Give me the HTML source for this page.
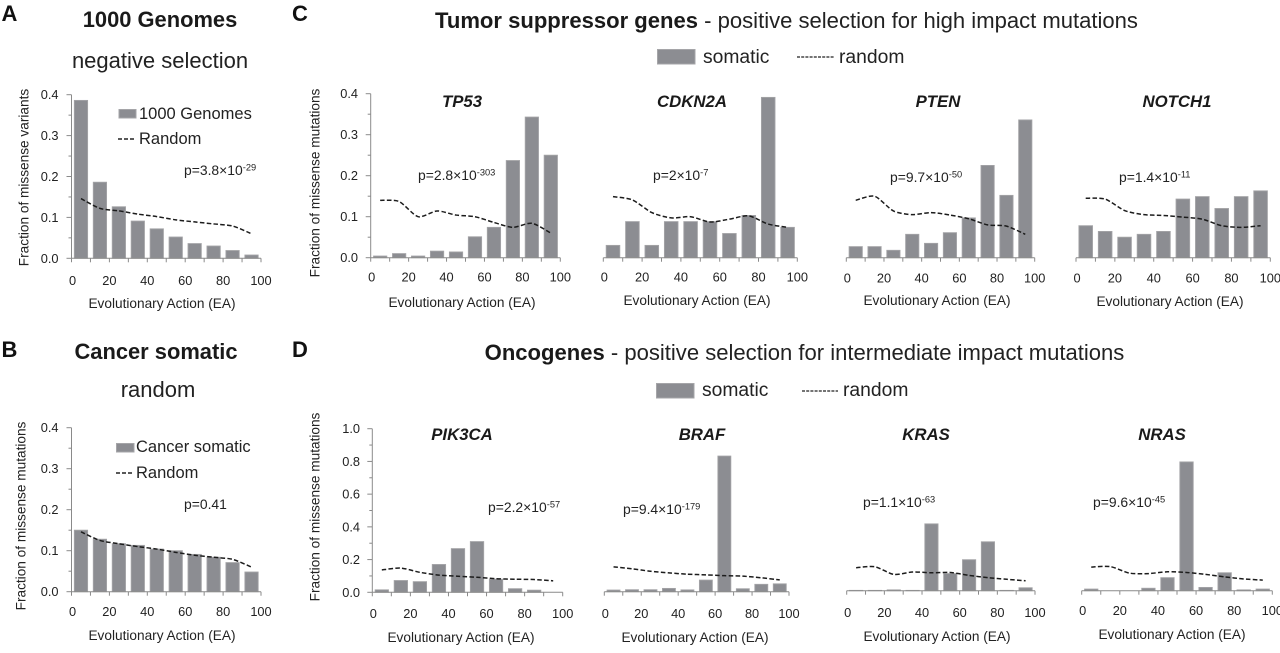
<!DOCTYPE html>
<html lang="en">
<head>
<meta charset="utf-8">
<title>Evolutionary Action selection charts</title>
<style>
html,body{margin:0;padding:0;background:#fff;width:1280px;height:653px;overflow:hidden}
svg{display:block;font-family:"Liberation Sans",sans-serif;fill:#222;filter:blur(0.3px)}
.letter{font-size:22px;font-weight:bold;fill:#111}
.head{font-size:21.9px;font-weight:bold;fill:#1a1a1a}
.sub{font-size:22px;fill:#222}
.wide{font-size:22.05px;fill:#222}
.wide .b{font-weight:bold;fill:#1a1a1a}
.leg{font-size:19.3px}
.legs{font-size:16.5px}
.gene{font-size:16.8px;font-weight:bold;font-style:italic;fill:#1a1a1a}
.pv{font-size:13.9px}
.pv .sup{font-size:9.3px}
.xt{font-size:12.8px;text-anchor:middle}
.yt{font-size:12.8px;text-anchor:end}
.axt{font-size:13.65px;text-anchor:middle}
</style>
</head>
<body>
<svg id="fig" width="1280" height="653" viewBox="0 0 1280 653" xmlns="http://www.w3.org/2000/svg">
  <rect width="1280" height="653" fill="#fff"/>

  <text class="letter" x="1.5" y="21">A</text>
  <text class="letter" x="1.5" y="357">B</text>
  <text class="letter" x="292" y="21">C</text>
  <text class="letter" x="292" y="357">D</text>

  <text class="head" x="160" y="27" text-anchor="middle">1000 Genomes</text>
  <text class="sub" x="160" y="68" text-anchor="middle">negative selection</text>
  <text class="head" x="156" y="359" text-anchor="middle">Cancer somatic</text>
  <text class="sub" x="158" y="397" text-anchor="middle">random</text>

  <text class="wide" x="786.5" y="28" text-anchor="middle"><tspan class="b">Tumor suppressor genes</tspan> - positive selection for high impact mutations</text>
  <text class="wide" x="804.5" y="360" text-anchor="middle"><tspan class="b">Oncogenes</tspan> - positive selection for intermediate impact mutations</text>

  <g>
    <rect x="119" y="109.5" width="17" height="8.5" fill="#8c8d92" stroke="#a5a5a8" stroke-width="1"/>
    <text class="legs" x="139" y="119">1000 Genomes</text>
    <line x1="118" x2="135" y1="139" y2="139" stroke="#222" stroke-width="1.4" stroke-dasharray="4 2"/>
    <text class="legs" x="139" y="144">Random</text>
  </g>
  <g>
    <rect x="116.5" y="443.5" width="17.5" height="8.5" fill="#8c8d92" stroke="#a5a5a8" stroke-width="1"/>
    <text class="legs" x="136" y="452">Cancer somatic</text>
    <line x1="116" x2="133" y1="473" y2="473" stroke="#222" stroke-width="1.4" stroke-dasharray="4 2"/>
    <text class="legs" x="136" y="478">Random</text>
  </g>
  <g>
    <rect x="657.5" y="49.5" width="37.5" height="14.5" fill="#8c8d92" stroke="#a5a5a8" stroke-width="1"/>
    <text class="leg" x="703" y="63">somatic</text>
    <line x1="797" x2="834" y1="57" y2="57" stroke="#222" stroke-width="1.2" stroke-dasharray="3 1.2"/>
    <text class="leg" x="839" y="63">random</text>
  </g>
  <g>
    <rect x="656.5" y="383.5" width="37.5" height="14.5" fill="#8c8d92" stroke="#a5a5a8" stroke-width="1"/>
    <text class="leg" x="702" y="396">somatic</text>
    <line x1="802" x2="838" y1="391" y2="391" stroke="#222" stroke-width="1.2" stroke-dasharray="3 1.2"/>
    <text class="leg" x="843" y="396">random</text>
  </g>

  <text class="gene" x="462" y="107" text-anchor="middle">TP53</text>
  <text class="gene" x="692" y="107" text-anchor="middle">CDKN2A</text>
  <text class="gene" x="938" y="107" text-anchor="middle">PTEN</text>
  <text class="gene" x="1177" y="107" text-anchor="middle">NOTCH1</text>
  <text class="gene" x="462" y="440" text-anchor="middle">PIK3CA</text>
  <text class="gene" x="702" y="440" text-anchor="middle">BRAF</text>
  <text class="gene" x="926" y="440" text-anchor="middle">KRAS</text>
  <text class="gene" x="1162" y="440" text-anchor="middle">NRAS</text>

  <text class="pv" x="184" y="175">p=3.8×10<tspan class="sup" dy="-4.5">-29</tspan></text>
  <text class="pv" x="184" y="509">p=0.41</text>
  <text class="pv" x="418" y="180">p=2.8×10<tspan class="sup" dy="-4.5">-303</tspan></text>
  <text class="pv" x="653" y="180">p=2×10<tspan class="sup" dy="-4.5">-7</tspan></text>
  <text class="pv" x="890" y="182">p=9.7×10<tspan class="sup" dy="-4.5">-50</tspan></text>
  <text class="pv" x="1119" y="182">p=1.4×10<tspan class="sup" dy="-4.5">-11</tspan></text>
  <text class="pv" x="488" y="512">p=2.2×10<tspan class="sup" dy="-4.5">-57</tspan></text>
  <text class="pv" x="623" y="514">p=9.4×10<tspan class="sup" dy="-4.5">-179</tspan></text>
  <text class="pv" x="863" y="507">p=1.1×10<tspan class="sup" dy="-4.5">-63</tspan></text>
  <text class="pv" x="1093" y="507">p=9.6×10<tspan class="sup" dy="-4.5">-45</tspan></text>

  <text class="axt" transform="translate(28.5 177.5) rotate(-90)">Fraction of missense variants</text>
  <text class="axt" transform="translate(25.5 516) rotate(-90)">Fraction of missense mutations</text>
  <text class="axt" transform="translate(319.5 183) rotate(-90)">Fraction of missense mutations</text>
  <text class="axt" transform="translate(319.5 507) rotate(-90)">Fraction of missense mutations</text>

  <text class="axt" x="162" y="308">Evolutionary Action (EA)</text>
  <text class="axt" x="162" y="640">Evolutionary Action (EA)</text>
  <text class="axt" x="462" y="307">Evolutionary Action (EA)</text>
  <text class="axt" x="697" y="305">Evolutionary Action (EA)</text>
  <text class="axt" x="937" y="305">Evolutionary Action (EA)</text>
  <text class="axt" x="1170" y="306">Evolutionary Action (EA)</text>
  <text class="axt" x="461" y="642">Evolutionary Action (EA)</text>
  <text class="axt" x="695" y="642">Evolutionary Action (EA)</text>
  <text class="axt" x="937" y="641">Evolutionary Action (EA)</text>
  <text class="axt" x="1172" y="639">Evolutionary Action (EA)</text>

  <g id="charts"></g>
</svg>

<script>
// Bin centres on the Evolutionary Action axis
const binCentres = [5, 15, 25, 35, 45, 55, 65, 75, 85, 95];
const xTickLabels = [0, 20, 40, 60, 80, 100];
const yTickLabelsSmall = ['0.0', '0.1', '0.2', '0.3', '0.4'];
const yTickLabelsLarge = ['0.0', '0.2', '0.4', '0.6', '0.8', '1.0'];

// Series values
const genomesValues = [0.386, 0.186, 0.126, 0.091, 0.072, 0.052, 0.036, 0.030, 0.019, 0.008];
const genomesRandom = [0.146, 0.122, 0.116, 0.108, 0.102, 0.094, 0.089, 0.084, 0.079, 0.060];
const somaticValues = [0.150, 0.128, 0.117, 0.113, 0.104, 0.100, 0.091, 0.084, 0.071, 0.048];
const somaticRandom = [0.146, 0.125, 0.117, 0.110, 0.104, 0.096, 0.089, 0.084, 0.079, 0.060];
const tp53Values = [0.004, 0.010, 0.004, 0.016, 0.014, 0.051, 0.074, 0.237, 0.343, 0.250];
const tp53Random = [0.140, 0.137, 0.100, 0.114, 0.104, 0.100, 0.086, 0.074, 0.084, 0.060];
const cdkn2aValues = [0.030, 0.088, 0.030, 0.088, 0.088, 0.088, 0.059, 0.103, 0.391, 0.074];
const cdkn2aRandom = [0.149, 0.141, 0.110, 0.097, 0.100, 0.087, 0.094, 0.102, 0.082, 0.074];
const ptenValues = [0.027, 0.027, 0.018, 0.057, 0.035, 0.061, 0.097, 0.225, 0.152, 0.336];
const ptenRandom = [0.140, 0.150, 0.114, 0.105, 0.110, 0.104, 0.095, 0.080, 0.077, 0.057];
const notch1Values = [0.078, 0.064, 0.050, 0.057, 0.064, 0.143, 0.149, 0.120, 0.149, 0.163];
const notch1Random = [0.145, 0.143, 0.115, 0.105, 0.103, 0.099, 0.094, 0.078, 0.074, 0.078];
const pik3caValues = [0.015, 0.072, 0.065, 0.170, 0.267, 0.310, 0.080, 0.022, 0.013, 0.000];
const pik3caRandom = [0.137, 0.148, 0.122, 0.105, 0.098, 0.092, 0.083, 0.080, 0.078, 0.070];
const brafValues = [0.010, 0.012, 0.012, 0.020, 0.011, 0.071, 0.829, 0.018, 0.045, 0.048];
const brafRandom = [0.152, 0.140, 0.125, 0.115, 0.107, 0.103, 0.098, 0.095, 0.085, 0.072];
const krasValues = [0.002, 0.002, 0.005, 0.002, 0.410, 0.105, 0.190, 0.300, 0.002, 0.018];
const krasRandom = [0.141, 0.147, 0.100, 0.115, 0.110, 0.112, 0.094, 0.080, 0.070, 0.061];
const nrasValues = [0.010, 0.000, 0.000, 0.015, 0.080, 0.790, 0.020, 0.110, 0.005, 0.010];
const nrasRandom = [0.145, 0.148, 0.108, 0.105, 0.116, 0.112, 0.100, 0.085, 0.072, 0.065];

const NS = 'http://www.w3.org/2000/svg';
const root = document.getElementById('charts');

function make(tag, parent, attrs) {
  const el = document.createElementNS(NS, tag);
  for (const k in attrs) el.setAttribute(k, attrs[k]);
  parent.appendChild(el);
  return el;
}

function smoothPath(pts) {
  let d = 'M' + pts[0][0].toFixed(2) + ' ' + pts[0][1].toFixed(2);
  for (let i = 0; i < pts.length - 1; i++) {
    const p0 = pts[Math.max(0, i - 1)];
    const p1 = pts[i];
    const p2 = pts[i + 1];
    const p3 = pts[Math.min(pts.length - 1, i + 2)];
    const c1x = p1[0] + (p2[0] - p0[0]) / 8;
    const c1y = p1[1] + (p2[1] - p0[1]) / 8;
    const c2x = p2[0] - (p3[0] - p1[0]) / 8;
    const c2y = p2[1] - (p3[1] - p1[1]) / 8;
    d += 'C' + c1x.toFixed(2) + ' ' + c1y.toFixed(2) + ' ' + c2x.toFixed(2) + ' ' + c2y.toFixed(2) + ' ' + p2[0].toFixed(2) + ' ' + p2[1].toFixed(2);
  }
  return d;
}

function drawChart(name, values, random, left, right, base, height, yMax, yLabels, yLabelRight, xLabelY) {
  const g = make('g', root, {});
  
  

  const xScale = v => left + (right - left) * v / 100;
  const yScale = v => base - height * v / yMax;
  const binWidth = (right - left) / binCentres.length;

  // bars
  binCentres.forEach((c, i) => {
    const y = yScale(values[i]);
    const bar = make('rect', g, {
      x: xScale(c) - binWidth * 0.35,
      y: y,
      width: binWidth * 0.7,
      height: Math.max(0, base - y),
      fill: '#8c8d92',
      stroke: '#a3a3a6',
      'stroke-width': 0.9
    });
    
    
  });

  // x axis
  const xAxis = make('line', g, { x1: left, x2: right, y1: base, y2: base, stroke: '#8a8a8a', 'stroke-width': 1 });
  
  
  for (let v = 0; v <= 100; v += 10) {
    const t = make('line', g, { x1: xScale(v), x2: xScale(v), y1: base, y2: base + 4, stroke: '#8a8a8a', 'stroke-width': 1 });
    
    
  }
  xTickLabels.forEach(v => {
    const lab = make('text', g, { class: 'xt', x: xScale(v) + (v === 0 ? 1 : 0), y: xLabelY });
    lab.textContent = v;
    
    
  });

  // y axis (only leftmost charts)
  if (yLabels) {
    const yAxis = make('line', g, { x1: left, x2: left, y1: base, y2: base - height, stroke: '#8a8a8a', 'stroke-width': 1 });
    
    
    const steps = yLabels.length - 1;
    for (let i = 0; i <= steps * 2; i++) {
      const yy = base - height * i / (steps * 2);
      const major = i % 2 === 0;
      const t = make('line', g, { x1: left - (major ? 5 : 3), x2: left, y1: yy, y2: yy, stroke: '#8a8a8a', 'stroke-width': 1 });
      
      
    }
    yLabels.forEach((s, i) => {
      const lab = make('text', g, { class: 'yt', x: yLabelRight, y: base - height * i / steps + 4.5 });
      lab.textContent = s;
      
      
    });
  }

  // random line
  const pts = binCentres.map((c, i) => [xScale(c), yScale(random[i])]);
  const line = make('path', g, { d: smoothPath(pts), fill: 'none', stroke: '#1c1c1c', 'stroke-width': 1.5, 'stroke-dasharray': '4.5 2.3' });
  
  
}

drawChart('1000-genomes', genomesValues, genomesRandom, 71.5, 261, 258.3, 163.6, 0.4, yTickLabelsSmall, 58.5, 285);
drawChart('cancer-somatic', somaticValues, somaticRandom, 71.5, 261, 591.7, 164, 0.4, yTickLabelsSmall, 58.5, 616);
drawChart('tp53', tp53Values, tp53Random, 370.7, 560.3, 257.7, 164, 0.4, yTickLabelsSmall, 358, 281.5);
drawChart('cdkn2a', cdkn2aValues, cdkn2aRandom, 603.3, 797.3, 257.7, 164, 0.4, null, 0, 281.5);
drawChart('pten', ptenValues, ptenRandom, 846.3, 1034.7, 257.7, 164, 0.4, null, 0, 282.5);
drawChart('notch1', notch1Values, notch1Random, 1076, 1270.3, 257.7, 164, 0.4, null, 0, 282.5);
drawChart('pik3ca', pik3caValues, pik3caRandom, 372.3, 562.7, 592.3, 163.6, 1.0, yTickLabelsLarge, 360, 618);
drawChart('braf', brafValues, brafRandom, 604.3, 789, 591.7, 163.6, 1.0, null, 0, 618);
drawChart('kras', krasValues, krasRandom, 846.7, 1035, 590.7, 163, 1.0, null, 0, 617);
drawChart('nras', nrasValues, nrasRandom, 1081.7, 1272.3, 590.7, 163, 1.0, null, 0, 615);
</script>
</body>
</html>
